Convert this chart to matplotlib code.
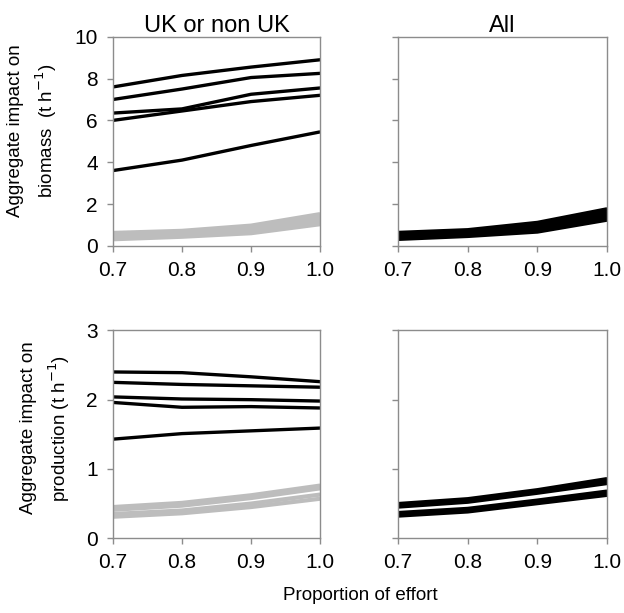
import matplotlib
matplotlib.use("Agg")
from matplotlib import pyplot as plt

plt.rcParams['font.family'] = ['Liberation Sans', 'DejaVu Sans']

effort = [0.7, 0.8, 0.9, 1.0]

# biomass, UK or non UK
bio_uk_black = [
    [7.6, 8.15, 8.55, 8.9],
    [7.0, 7.5, 8.05, 8.25],
    [6.35, 6.55, 7.25, 7.55],
    [6.0, 6.45, 6.9, 7.2],
    [3.6, 4.1, 4.8, 5.45],
]
bio_uk_grey = [
    [0.6, 0.7, 0.95, 1.5],
    [0.5, 0.62, 0.85, 1.35],
    [0.42, 0.55, 0.75, 1.2],
    [0.33, 0.45, 0.62, 1.05],
]
# biomass, All
bio_all = [
    [0.62, 0.75, 1.1, 1.75],
    [0.55, 0.68, 1.0, 1.6],
    [0.48, 0.62, 0.9, 1.5],
    [0.4, 0.55, 0.78, 1.38],
    [0.33, 0.47, 0.68, 1.25],
]
# production, UK or non UK
prod_uk_black = [
    [2.40, 2.39, 2.33, 2.26],
    [2.25, 2.22, 2.20, 2.18],
    [2.04, 2.01, 2.00, 1.98],
    [1.96, 1.89, 1.90, 1.88],
    [1.43, 1.51, 1.55, 1.59],
]
prod_uk_grey = [
    [0.45, 0.51, 0.62, 0.76],
    [0.41, 0.47, 0.58, 0.72],
    [0.35, 0.40, 0.50, 0.63],
    [0.31, 0.36, 0.45, 0.57],
]
# production, All
prod_all = [
    [0.49, 0.56, 0.69, 0.85],
    [0.46, 0.53, 0.66, 0.80],
    [0.36, 0.42, 0.54, 0.67],
    [0.33, 0.39, 0.51, 0.63],
]

fig = plt.figure(figsize=(6.24, 6.13), dpi=100)
ax1 = fig.add_axes([0.181, 0.599, 0.332, 0.341])
ax2 = fig.add_axes([0.638, 0.599, 0.335, 0.341])
ax3 = fig.add_axes([0.181, 0.122, 0.332, 0.339])
ax4 = fig.add_axes([0.638, 0.122, 0.335, 0.339])

for s in bio_uk_grey:
    ax1.plot(effort, s, color='#bdbdbd', lw=3.5, solid_capstyle='butt')
for s in bio_uk_black:
    ax1.plot(effort, s, color='black', lw=2.4, solid_capstyle='butt')
for s in bio_all:
    ax2.plot(effort, s, color='black', lw=3.0, solid_capstyle='butt')
for s in prod_uk_grey:
    ax3.plot(effort, s, color='#bdbdbd', lw=3.0, solid_capstyle='butt')
for s in prod_uk_black:
    ax3.plot(effort, s, color='black', lw=2.4, solid_capstyle='butt')
for s in prod_all:
    ax4.plot(effort, s, color='black', lw=3.4, solid_capstyle='butt')

for ax in (ax1, ax2, ax3, ax4):
    ax.set_xlim(0.7, 1.0)
    ax.set_xticks(effort)
    ax.set_xticklabels(['0.7', '0.8', '0.9', '1.0'])
    for sp in ax.spines.values():
        sp.set_color('#8c8c8c')
        sp.set_linewidth(1.0)
    ax.tick_params(direction='out', length=4, width=1, color='#8c8c8c',
                   labelsize=15, pad=7)

for ax in (ax1, ax2):
    ax.set_ylim(0, 10)
    ax.set_yticks([0, 2, 4, 6, 8, 10])
for ax in (ax3, ax4):
    ax.set_ylim(0, 3)
    ax.set_yticks([0, 1, 2, 3])
for ax in (ax2, ax4):
    ax.tick_params(labelleft=False)

ax1.set_title('UK or non UK', fontsize=17, pad=2)
ax2.set_title('All', fontsize=17, pad=2)
ax1.set_ylabel('Aggregate impact on\nbiomass  (t h$^{-1}$)', fontsize=13.5,
               linespacing=1.45)
ax1.yaxis.set_label_coords(-0.262, 0.55)
ax3.set_ylabel('Aggregate impact on\nproduction (t h$^{-1}$)', fontsize=13.5,
               linespacing=1.45)
ax3.yaxis.set_label_coords(-0.20, 0.53)
fig.text(0.577, 0.022, 'Proportion of effort', ha='center', fontsize=13.5)

fig.savefig('out.png', dpi=100)
